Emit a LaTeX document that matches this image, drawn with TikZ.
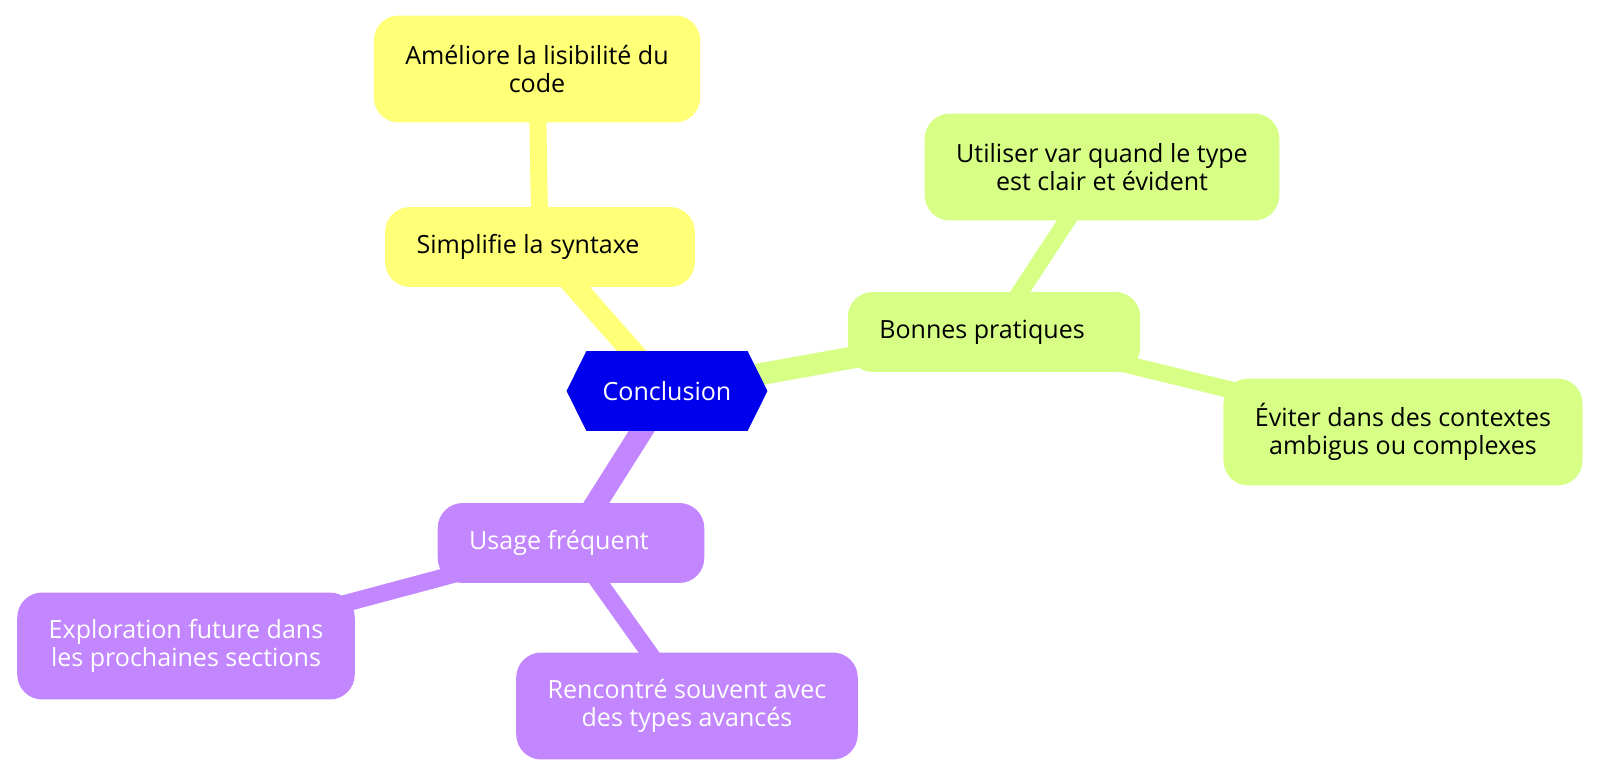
\documentclass[tikz,border=0pt]{standalone}
\usepackage{fontspec}
\setmainfont{Open Sans}
\usetikzlibrary{shapes.symbols,backgrounds}

\definecolor{rootblue}{HTML}{0000EC}
\definecolor{secyellow}{HTML}{FFFF78}
\definecolor{secgreen}{HTML}{D7FF86}
\definecolor{secpurple}{HTML}{C286FF}

\tikzset{
  mapfont/.style={font=\fontsize{14.25}{16.2}\selectfont},
  rootnode/.style={signal, signal to=west and east, signal pointer angle=127,
    fill=rootblue, text=white, minimum width=4.02cm, minimum height=1.6cm,
    inner sep=0pt, mapfont},
  idea/.style={rounded corners=0.5cm, align=center, inner xsep=0.63cm,
    inner ysep=0pt, mapfont},
  oneline/.style={idea, minimum height=1.6cm},
  twoline/.style={idea, minimum height=2.14cm},
  trunk/.style={line width=0.44cm},
  twig/.style={line width=0.34cm},
}

\begin{document}
\begin{tikzpicture}[x=0.02cm, y=-0.02cm]
    \useasboundingbox (0,0) rectangle (1600,776);

    \node[rootnode] (conclusion) at (667,391) {Conclusion};

    \node[oneline, fill=secyellow] (syntaxe) at (540,247) {Simplifie la syntaxe\hspace*{0.48cm}};
    \node[twoline, fill=secyellow] (lisible) at (537,69) {Améliore la lisibilité du\\code};

    \node[oneline, fill=secgreen] (pratiques) at (994,332) {Bonnes pratiques\hspace*{0.48cm}};
    \node[twoline, fill=secgreen] (utiliser) at (1102,167) {Utiliser var quand le type\\est clair et évident};
    \node[twoline, fill=secgreen] (eviter) at (1403,432) {Éviter dans des contextes\\ambigus ou complexes};

    \node[oneline, fill=secpurple, text=white] (usage) at (571,543) {Usage fréquent\hspace*{0.48cm}};
    \node[twoline, fill=secpurple, text=white] (exploration) at (186,646) {Exploration future dans\\les prochaines sections};
    \node[twoline, fill=secpurple, text=white] (rencontre) at (687,706) {Rencontré souvent avec\\des types avancés};

    % branches behind the boxes
    \begin{scope}[on background layer]
      \draw[trunk, secyellow] (conclusion.center) -- (syntaxe.center);
      \draw[twig, secyellow] (syntaxe.center) -- (lisible.center);
      \draw[trunk, secgreen] (conclusion.center) -- (pratiques.center);
      \draw[twig, secgreen] (pratiques.center) -- (utiliser.center);
      \draw[twig, secgreen] (pratiques.center) -- (eviter.center);
      \draw[trunk, secpurple] (conclusion.center) -- (usage.center);
      \draw[twig, secpurple] (usage.center) -- (exploration.center);
      \draw[twig, secpurple] (usage.center) -- (rencontre.center);
    \end{scope}
  \end{tikzpicture}
\end{document}
